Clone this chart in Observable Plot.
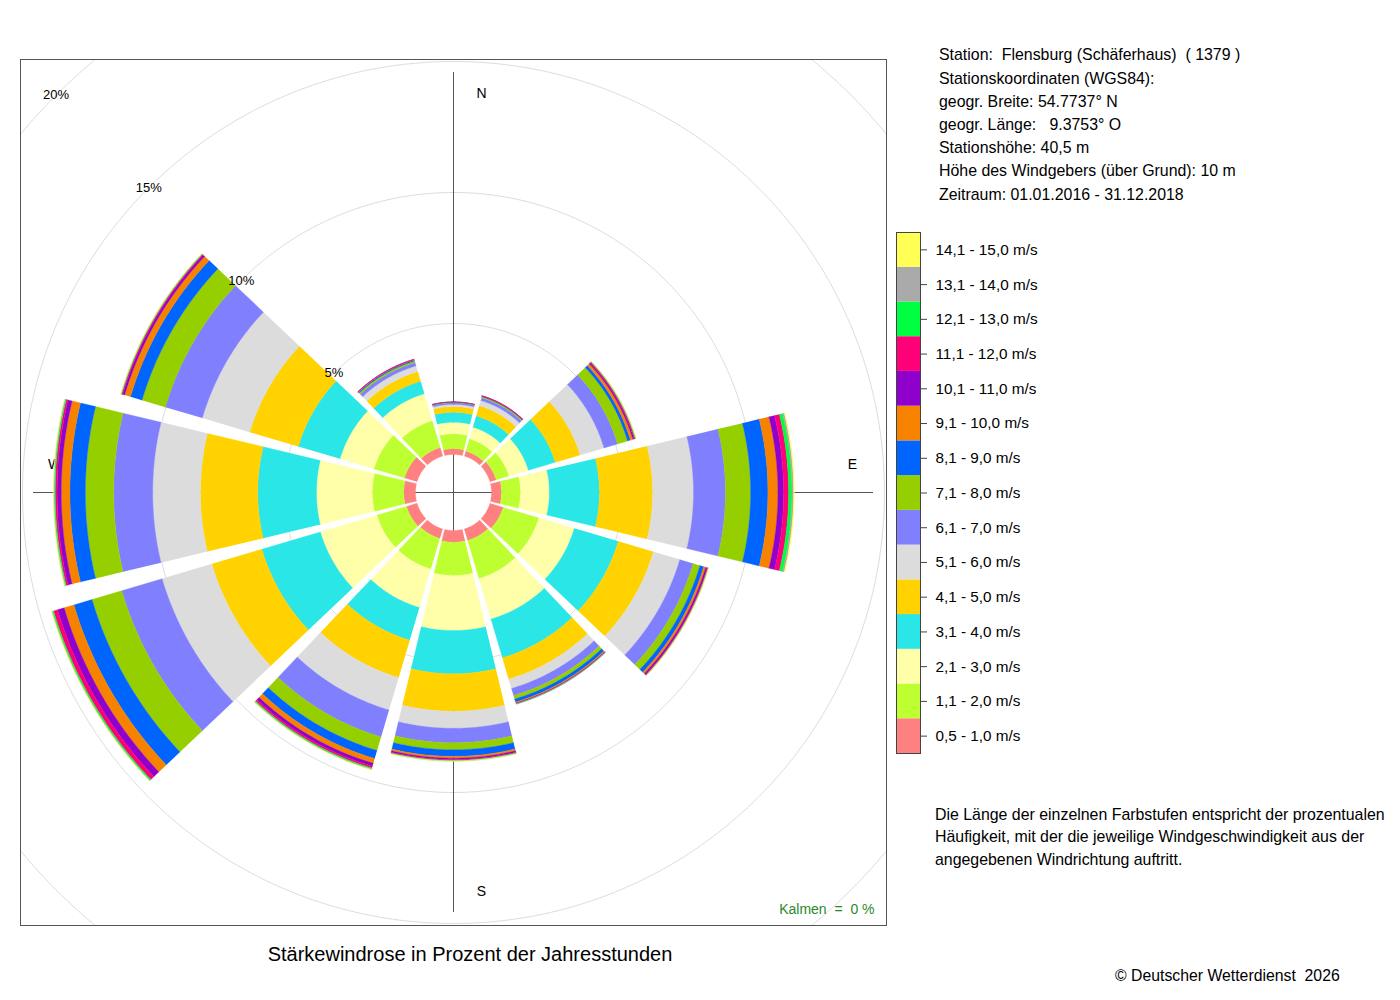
<!DOCTYPE html>
<html><head><meta charset="utf-8">
<script src="https://cdn.jsdelivr.net/npm/d3@7"></script>
<script src="https://cdn.jsdelivr.net/npm/@observablehq/plot@0.6"></script>
<style>
body{margin:0;background:#fff;font-family:"Liberation Sans",Arial,sans-serif;color:#000}
#wrap{position:relative;width:1400px;height:1000px;overflow:hidden;background:#fff}
.abs{position:absolute;white-space:pre}
</style></head><body><div id="wrap"></div>
<script>
// ---- data ----
const speedClasses = ["0,5 - 1,0 m/s","1,1 - 2,0 m/s","2,1 - 3,0 m/s","3,1 - 4,0 m/s","4,1 - 5,0 m/s","5,1 - 6,0 m/s","6,1 - 7,0 m/s","7,1 - 8,0 m/s","8,1 - 9,0 m/s","9,1 - 10,0 m/s","10,1 - 11,0 m/s","11,1 - 12,0 m/s","12,1 - 13,0 m/s","13,1 - 14,0 m/s","14,1 - 15,0 m/s"];
const classColors = ["#ff8080","#beff32","#ffffaa","#2ae6e6","#ffd200","#dcdcdc","#8080ff","#96cf00","#0064ff","#f78200","#9000cc","#ff0078","#00ff40","#aaaaaa","#ffff55"];
const directions = [0,30,60,90,120,150,180,210,240,270,300,330];
// percent of hours per speed class (0,5-1,0 ... 14,1-15,0 m/s)
const dir000 = [0.22,0.57,0.44,0.38,0.22,0.08,0.06,0.02,0.01,0.005,0.005,0,0,0,0];
const dir030 = [0.20,0.49,0.46,0.45,0.41,0.20,0.11,0.04,0.02,0.01,0.005,0.005,0,0,0];
const dir060 = [0.25,0.51,0.77,1.07,0.99,0.95,0.54,0.40,0.11,0.10,0.05,0.04,0.02,0.01,0.005];
const dir090 = [0.38,0.73,1.10,1.91,2.03,1.56,1.22,0.96,0.66,0.38,0.22,0.19,0.13,0.06,0.03];
const dir120 = [0.53,1.42,1.41,1.75,1.40,1.05,0.53,0.27,0.15,0.08,0.06,0.03,0.01,0.01,0.005];
const dir150 = [0.46,1.52,1.61,1.54,0.85,0.37,0.28,0.14,0.12,0.04,0.02,0.01,0.01,0.005,0];
const dir180 = [0.45,1.27,2.10,1.65,1.43,0.65,0.55,0.27,0.25,0.07,0.05,0.03,0.02,0.01,0.005];
const dir210 = [0.38,1.22,1.53,1.30,1.49,1.29,1.07,0.54,0.32,0.19,0.12,0.07,0.04,0.02,0.01];
const dir240 = [0.42,1.18,2.25,2.33,1.99,1.98,1.61,1.18,0.72,0.39,0.26,0.16,0.05,0.02,0.01];
const dir270 = [0.45,1.20,2.13,2.24,2.19,1.82,1.49,1.08,0.59,0.33,0.16,0.07,0.04,0.02,0.01];
const dir300 = [0.50,1.22,1.35,1.66,1.93,1.89,1.47,0.93,0.46,0.23,0.08,0.04,0.02,0.01,0.005];
const dir330 = [0.34,1.07,1.07,0.50,0.38,0.23,0.13,0.06,0.04,0.02,0.01,0.005,0,0,0];
const freqByDirection = [dir000,dir030,dir060,dir090,dir120,dir150,dir180,dir210,dir240,dir270,dir300,dir330];
const gridPercents = [5,10,15,20];
const compassLabels = ["N","E","S","W"];
const compassAngles = [0,90,180,270];
const calmPercent = 0;
const stationLines = ["Station:  Flensburg (Schäferhaus)  ( 1379 )","Stationskoordinaten (WGS84):","geogr. Breite: 54.7737° N","geogr. Länge:   9.3753° O","Stationshöhe: 40,5 m","Höhe des Windgebers (über Grund): 10 m","Zeitraum: 01.01.2016 - 31.12.2018"];
const noteLines = ["Die Länge der einzelnen Farbstufen entspricht der prozentualen","Häufigkeit, mit der die jeweilige Windgeschwindigkeit aus der","angegebenen Windrichtung auftritt."];
const titleText = "Stärkewindrose in Prozent der Jahresstunden";
const copyrightText = "© Deutscher Wetterdienst  2026";

// ---- geometry settings (radial unit = percent) ----
const HOLE = 38/26.2;       // empty centre radius
const HALF_WIDTH = 13.5;    // half sector width in degrees
const DOMAIN = 433/26.2;    // half size of the square frame
const AXIS_R = 420/26.2;    // compass axis line length
const LABEL_R = 399/26.2, LABEL_OFF = 28/26.2;
const rad = d => d*Math.PI/180;

const wedges = [];
directions.forEach((dir, i) => {
  const vals = freqByDirection[i];
  const cum = d3.cumsum(vals);
  vals.forEach((v, k) => {
    if (!(v > 0)) return;
    const r0 = HOLE + (k ? cum[k-1] : 0), r1 = HOLE + cum[k];
    const id = dir + "-" + k;
    const angles = d3.range(dir - HALF_WIDTH, dir + HALF_WIDTH + 1e-6, 0.5);
    for (const t of angles) wedges.push({id, cls: speedClasses[k], x: r1*Math.sin(rad(t)), y: r1*Math.cos(rad(t))});
    for (const t of angles.slice().reverse()) wedges.push({id, cls: speedClasses[k], x: r0*Math.sin(rad(t)), y: r0*Math.cos(rad(t))});
  });
});
const circles = gridPercents.flatMap(p => d3.range(0, 361, 1).map(t => ({p, x: (HOLE+p)*Math.sin(rad(t)), y: (HOLE+p)*Math.cos(rad(t))})));

const FONT = "Liberation Sans, Arial, Helvetica, sans-serif";
const rose = Plot.plot({
  width: 900, height: 1000,
  marginLeft: 20, marginRight: 14, marginTop: 59, marginBottom: 75,
  x: {domain: [-DOMAIN, DOMAIN], axis: null},
  y: {domain: [-DOMAIN, DOMAIN], axis: null},
  color: {domain: speedClasses, range: classColors},
  style: {fontFamily: FONT, background: "white", overflow: "visible"},
  marks: [
    Plot.line(circles, {x: "x", y: "y", z: "p", stroke: "#dddddd", strokeWidth: 1, clip: true}),
    Plot.ruleX([0], {y1: -AXIS_R, y2: AXIS_R, stroke: "#555", strokeWidth: 1}),
    Plot.ruleY([0], {x1: -AXIS_R, x2: AXIS_R, stroke: "#555", strokeWidth: 1}),
    Plot.text(compassLabels, {
      x: (d, i) => LABEL_R*Math.sin(rad(compassAngles[i])) + LABEL_OFF*Math.abs(Math.cos(rad(compassAngles[i]))),
      y: (d, i) => LABEL_R*Math.cos(rad(compassAngles[i])) + LABEL_OFF*Math.abs(Math.sin(rad(compassAngles[i]))),
      text: d => d, fontSize: 14, fill: "#000"
    }),
    Plot.line(wedges, {x: "x", y: "y", z: "id", fill: "cls", stroke: "cls", strokeWidth: 0.35, curve: "linear"}),
    Plot.text(gridPercents, {
      x: p => -(HOLE+p)*Math.SQRT1_2, y: p => (HOLE+p)*Math.SQRT1_2,
      text: p => p + "%", fontSize: 13, fill: "#000"
    }),
    Plot.text([calmPercent], {
      frameAnchor: "bottom-right", dx: -12, dy: -12, textAnchor: "end", lineAnchor: "bottom",
      text: d => "Kalmen\u00a0 =\u00a0 " + d + " %", fontSize: 14, fill: "#2a8a2a"
    }),
    Plot.frame({stroke: "#555", strokeWidth: 1})
  ]
});

const legend = Plot.plot({
  width: 200, height: 523,
  marginTop: 1, marginBottom: 1, marginLeft: 1, marginRight: 175,
  x: {domain: [0, 1], axis: null},
  y: {domain: speedClasses.slice().reverse(), padding: 0, round: false, axis: null},
  color: {domain: speedClasses, range: classColors},
  style: {fontFamily: FONT, background: "transparent", overflow: "visible"},
  marks: [
    Plot.barX(speedClasses, {x1: 0, x2: 1, y: d => d, fill: d => d}),
    Plot.frame({stroke: "#444", strokeWidth: 1}),
    Plot.axisY({anchor: "right", tickSize: 6, tickPadding: 9, fontSize: 15.3, stroke: "#444", fill: "#000"})
  ]
});

const wrap = document.getElementById("wrap");
rose.style.position = "absolute"; rose.style.left = "0px"; rose.style.top = "0px";
wrap.appendChild(rose);
legend.style.position = "absolute"; legend.style.left = "895px"; legend.style.top = "231px";
wrap.appendChild(legend);

function addBlock(lines, left, top, size, lh, extra = {}) {
  const div = document.createElement("div");
  div.className = "abs";
  div.style.left = left + "px"; div.style.top = top + "px";
  div.style.fontSize = size + "px"; div.style.lineHeight = lh + "px";
  Object.assign(div.style, extra);
  div.textContent = lines.join("\n");
  wrap.appendChild(div);
  return div;
}
addBlock(stationLines, 939, 43.4, 15.9, 23.2);
addBlock(noteLines, 935, 803.8, 15.9, 22.5);
addBlock([titleText], 0, 942, 20, 24, {width: "940px", textAlign: "center"});
addBlock([copyrightText], 1115, 966, 15.8, 20);
</script></body></html>
